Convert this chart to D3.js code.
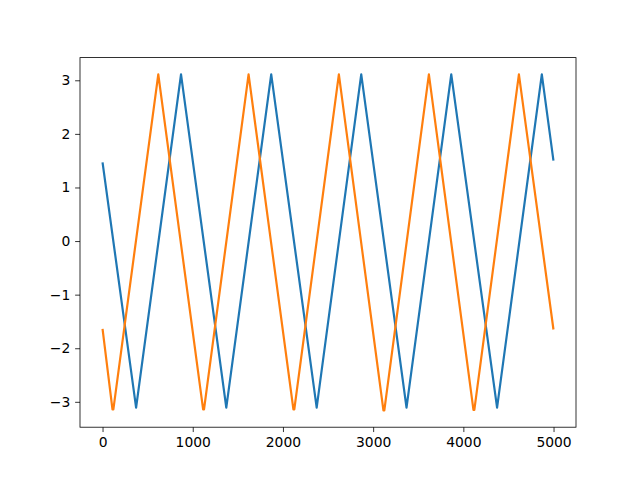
<!DOCTYPE html>
<html>
<head>
<meta charset="utf-8">
<script src="https://cdn.jsdelivr.net/npm/d3@7"></script>
<style>
html,body{margin:0;padding:0;background:#fff;}
svg{display:block;}
</style>
</head>
<body>
<script>
// Vertices (x, y)
const blueX = [0, 372, 870, 1372, 1870, 2374, 2868, 3370, 3866, 4374, 4870, 4999];
const blueY = [1.47, -3.11, 3.11, -3.11, 3.11, -3.11, 3.11, -3.11, 3.11, -3.11, 3.11, 1.50];
const orangeX = [0, 110, 120, 618, 1115, 1125, 1619, 2116, 2126, 2620, 3114, 3124, 3618, 4112, 4122, 4616, 4999];
const orangeY = [-1.64, -3.14, -3.14, 3.11, -3.14, -3.14, 3.11, -3.14, -3.14, 3.11, -3.16, -3.16, 3.11, -3.15, -3.15, 3.11, -1.65];
const xTicks = [0, 1000, 2000, 3000, 4000, 5000];
const yTicks = [-3, -2, -1, 0, 1, 2, 3];

const W = 640, H = 480;
const L = 80, R = 576, T = 57.6, B = 427.2;
const svg = d3.select("body").append("svg").attr("width", W).attr("height", H);

const allX = blueX.concat(orangeX), allY = blueY.concat(orangeY);
const xmin = d3.min(allX), xmax = d3.max(allX);
const ymin = d3.min(allY), ymax = d3.max(allY);
const xm = (xmax - xmin) * 0.05, ym = (ymax - ymin) * 0.05;
const x = d3.scaleLinear().domain([xmin - xm, xmax + xm]).range([L, R]);
const y = d3.scaleLinear().domain([ymin - ym, ymax + ym]).range([B, T]);

const fmt = d => (d < 0 ? "\u2212" + Math.abs(d) : "" + d);
const font = "DejaVu Sans, sans-serif";

const g = svg.append("g");
const clip = svg.append("clipPath").attr("id", "c").append("rect")
  .attr("x", L).attr("y", T).attr("width", R - L).attr("height", B - T);

const line = d3.line().x(d => x(d[0])).y(d => y(d[1]));
const series = [
  {xs: blueX, ys: blueY, c: "#1f77b4"},
  {xs: orangeX, ys: orangeY, c: "#ff7f0e"}
];
series.forEach(s => {
  const pts = s.xs.map((v, i) => [v, s.ys[i]]);
  g.append("path").attr("d", line(pts)).attr("fill", "none")
    .attr("stroke", s.c).attr("stroke-width", 2.2)
    .attr("stroke-linejoin", "round").attr("stroke-linecap", "butt")
    .attr("clip-path", "url(#c)");
});

const xAxis = d3.axisBottom(x).tickValues(xTicks).tickFormat(fmt).tickSize(4.86).tickPadding(4.86);
const yAxis = d3.axisLeft(y).tickValues(yTicks).tickFormat(fmt).tickSize(4.86).tickPadding(4.86);
const gx = svg.append("g").attr("transform", `translate(0,${B})`).call(xAxis);
const gy = svg.append("g").attr("transform", `translate(${L},0)`).call(yAxis);
[gx, gy].forEach(a => {
  a.select(".domain").remove();
  a.selectAll(".tick line").attr("stroke", "#000").attr("stroke-width", 0.8);
  a.selectAll(".tick text").attr("fill", "#000").style("font-family", font).style("font-size", "13.89px");
});

svg.append("rect").attr("x", L).attr("y", T).attr("width", R - L).attr("height", B - T)
  .attr("fill", "none").attr("stroke", "#000").attr("stroke-width", 0.8);
</script>
</body>
</html>
